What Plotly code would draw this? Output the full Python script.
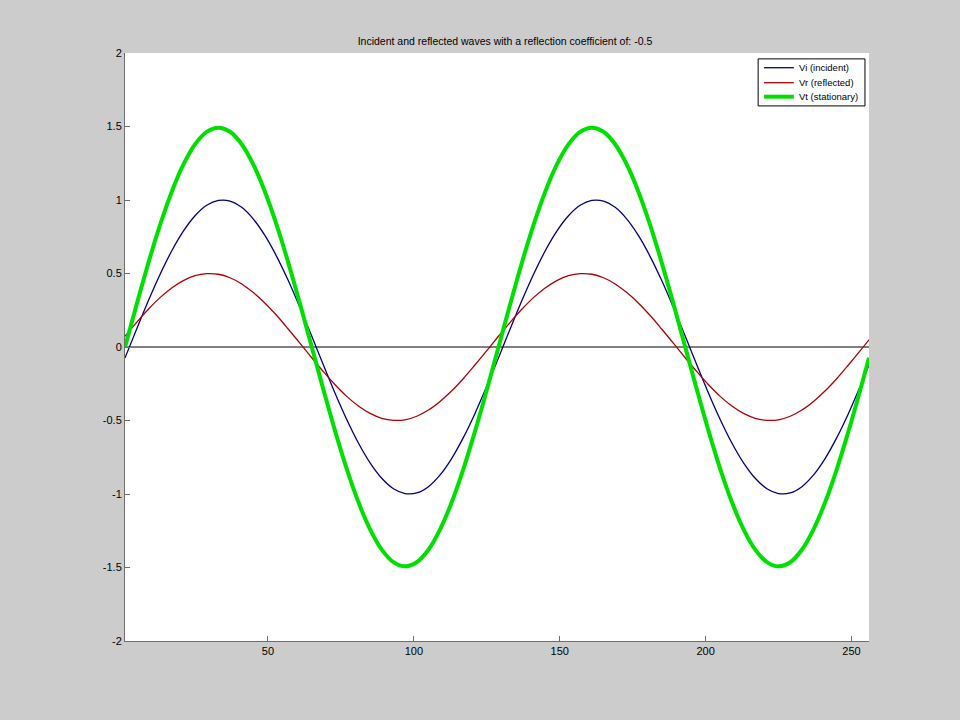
import plotly.graph_objects as go

# sample positions along the line (every 4th sample, plus the last one)
x_vals = [1, 5, 9, 13, 17, 21, 25, 29, 33, 37, 41, 45, 49, 53, 57, 61,
          65, 69, 73, 77, 81, 85, 89, 93, 97, 101, 105, 109, 113, 117, 121, 125,
          129, 133, 137, 141, 145, 149, 153, 157, 161, 165, 169, 173, 177, 181, 185, 189,
          193, 197, 201, 205, 209, 213, 217, 221, 225, 229, 233, 237, 241, 245, 249, 253,
          256]

vi_incident = [-0.074, 0.122, 0.314, 0.493, 0.653, 0.788, 0.893, 0.964, 0.997, 0.993, 0.950, 0.870, 0.757, 0.615, 0.450, 0.267,
               0.074, -0.122, -0.314, -0.493, -0.653, -0.788, -0.893, -0.964, -0.997, -0.993, -0.950, -0.870, -0.757, -0.615, -0.450, -0.267,
               -0.074, 0.122, 0.314, 0.493, 0.653, 0.788, 0.893, 0.964, 0.997, 0.993, 0.950, 0.870, 0.757, 0.615, 0.450, 0.267,
               0.074, -0.122, -0.314, -0.493, -0.653, -0.788, -0.893, -0.964, -0.997, -0.993, -0.950, -0.870, -0.757, -0.615, -0.450, -0.267,
               -0.122]

vr_reflected = [0.073, 0.168, 0.257, 0.336, 0.402, 0.452, 0.485, 0.499, 0.495, 0.471, 0.429, 0.370, 0.298, 0.214, 0.121, 0.025,
                -0.073, -0.168, -0.257, -0.336, -0.402, -0.452, -0.485, -0.499, -0.495, -0.471, -0.429, -0.370, -0.298, -0.214, -0.121, -0.025,
                0.073, 0.168, 0.257, 0.336, 0.402, 0.452, 0.485, 0.499, 0.495, 0.471, 0.429, 0.370, 0.298, 0.214, 0.121, 0.025,
                -0.073, -0.168, -0.257, -0.336, -0.402, -0.452, -0.485, -0.499, -0.495, -0.471, -0.429, -0.370, -0.298, -0.214, -0.121, -0.025,
                0.049]

vt_stationary = [-0.001, 0.290, 0.571, 0.829, 1.055, 1.240, 1.378, 1.463, 1.492, 1.464, 1.379, 1.240, 1.055, 0.829, 0.571, 0.292,
                 0.001, -0.290, -0.571, -0.829, -1.055, -1.240, -1.378, -1.463, -1.492, -1.464, -1.379, -1.240, -1.055, -0.829, -0.571, -0.292,
                 -0.001, 0.290, 0.571, 0.829, 1.055, 1.240, 1.378, 1.463, 1.492, 1.464, 1.379, 1.240, 1.055, 0.829, 0.571, 0.292,
                 0.001, -0.290, -0.571, -0.829, -1.055, -1.240, -1.378, -1.463, -1.492, -1.464, -1.379, -1.240, -1.055, -0.829, -0.571, -0.292,
                 -0.073]

zero_x = [1, 256]
zero_y = [0, 0]

x_ticks = [50, 100, 150, 200, 250]
y_ticks = [-2, -1.5, -1, -0.5, 0, 0.5, 1, 1.5, 2]
y_tick_text = ["-2", "-1.5", "-1", "-0.5", "0", "0.5", "1", "1.5", "2"]

series = [
    ("Vi (incident)", vi_incident, "#000080", 1.3),
    ("Vr (reflected)", vr_reflected, "#b00000", 1.3),
    ("Vt (stationary)", vt_stationary, "#00e000", 4),
]

FONT = "Arial, Liberation Sans, sans-serif"
AXIS_GREY = "#6e6e6e"

fig = go.Figure()
fig.add_trace(go.Scatter(x=zero_x, y=zero_y, mode="lines",
                         line=dict(color="black", width=1), showlegend=False,
                         hoverinfo="skip"))
for name, values, color, width in series:
    fig.add_trace(go.Scatter(x=x_vals, y=values, name=name, mode="lines",
                             line=dict(color=color, width=width, shape="spline"),
                             showlegend=False))

# compact MATLAB-style legend box (plotly's own legend rows are too tall)
fig.add_shape(type="rect", xref="paper", yref="paper",
              x0=0.851, x1=0.9946, y0=0.910, y1=0.990,
              line=dict(color="black", width=1), fillcolor="white", layer="above")
row_y = [0.975, 0.9495, 0.9257]
for (name, _, color, width), yy in zip(series, row_y):
    fig.add_shape(type="line", xref="paper", yref="paper",
                  x0=0.859, x1=0.899, y0=yy, y1=yy,
                  line=dict(color=color, width=width), layer="above")
    fig.add_annotation(text=name, xref="paper", yref="paper", x=0.903, y=yy,
                       xanchor="left", yanchor="middle", showarrow=False,
                       font=dict(size=9.5))

fig.update_layout(
    width=960,
    height=720,
    paper_bgcolor="#cccccc",
    plot_bgcolor="white",
    margin=dict(l=125, r=91, t=53, b=79),
    font=dict(family=FONT, size=11, color="black"),
    title=dict(text="Incident and reflected waves with a reflection coefficient of: -0.5",
               x=0.526, xanchor="center", y=0.943, yanchor="middle",
               font=dict(size=10.5)),
)
fig.update_xaxes(range=[1, 256], tickvals=x_ticks, showgrid=False,
                 zeroline=False, showline=True, linecolor=AXIS_GREY,
                 linewidth=1, ticks="inside", ticklen=5, tickcolor=AXIS_GREY)
fig.update_yaxes(range=[-2, 2], tickvals=y_ticks, ticktext=y_tick_text,
                 showgrid=False, zeroline=False, showline=True,
                 linecolor=AXIS_GREY, linewidth=1, ticks="inside", ticklen=5,
                 tickcolor=AXIS_GREY)

# drop the browser's default page margin so the figure sits at (0, 0)
fig.write_html("out.html", config={"displayModeBar": False},
               post_script="document.body.style.margin = '0';")
